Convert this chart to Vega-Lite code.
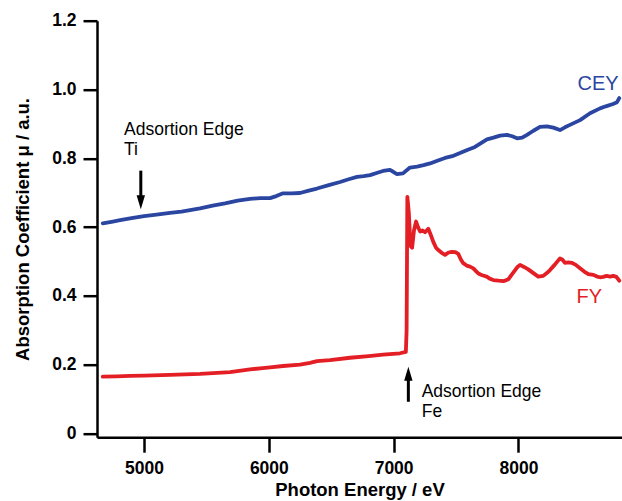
{
  "$schema": "https://vega.github.io/schema/vega-lite/v6.json",
  "autosize": "none",
  "width": 525,
  "height": 416.5,
  "padding": {"left": 97, "top": 20.7, "right": 0, "bottom": 64},
  "background": "white",
  "config": {
    "view": {"stroke": null},
    "font": "Liberation Sans"
  },
  "datasets": {
    "spectra": [
      {"E": 4669, "mu": 0.611, "series": "CEY"},
      {"E": 4750, "mu": 0.616, "series": "CEY"},
      {"E": 4808, "mu": 0.620, "series": "CEY"},
      {"E": 4900, "mu": 0.626, "series": "CEY"},
      {"E": 5000, "mu": 0.632, "series": "CEY"},
      {"E": 5100, "mu": 0.636, "series": "CEY"},
      {"E": 5208, "mu": 0.641, "series": "CEY"},
      {"E": 5300, "mu": 0.645, "series": "CEY"},
      {"E": 5449, "mu": 0.654, "series": "CEY"},
      {"E": 5550, "mu": 0.662, "series": "CEY"},
      {"E": 5649, "mu": 0.669, "series": "CEY"},
      {"E": 5750, "mu": 0.677, "series": "CEY"},
      {"E": 5849, "mu": 0.682, "series": "CEY"},
      {"E": 5930, "mu": 0.684, "series": "CEY"},
      {"E": 6010, "mu": 0.684, "series": "CEY"},
      {"E": 6060, "mu": 0.690, "series": "CEY"},
      {"E": 6114, "mu": 0.698, "series": "CEY"},
      {"E": 6180, "mu": 0.698, "series": "CEY"},
      {"E": 6250, "mu": 0.699, "series": "CEY"},
      {"E": 6320, "mu": 0.706, "series": "CEY"},
      {"E": 6386, "mu": 0.712, "series": "CEY"},
      {"E": 6480, "mu": 0.722, "series": "CEY"},
      {"E": 6571, "mu": 0.731, "series": "CEY"},
      {"E": 6640, "mu": 0.739, "series": "CEY"},
      {"E": 6707, "mu": 0.746, "series": "CEY"},
      {"E": 6760, "mu": 0.748, "series": "CEY"},
      {"E": 6811, "mu": 0.751, "series": "CEY"},
      {"E": 6870, "mu": 0.758, "series": "CEY"},
      {"E": 6915, "mu": 0.763, "series": "CEY"},
      {"E": 6971, "mu": 0.766, "series": "CEY"},
      {"E": 7000, "mu": 0.760, "series": "CEY"},
      {"E": 7027, "mu": 0.754, "series": "CEY"},
      {"E": 7075, "mu": 0.756, "series": "CEY"},
      {"E": 7131, "mu": 0.773, "series": "CEY"},
      {"E": 7188, "mu": 0.776, "series": "CEY"},
      {"E": 7240, "mu": 0.780, "series": "CEY"},
      {"E": 7292, "mu": 0.785, "series": "CEY"},
      {"E": 7350, "mu": 0.793, "series": "CEY"},
      {"E": 7412, "mu": 0.801, "series": "CEY"},
      {"E": 7470, "mu": 0.806, "series": "CEY"},
      {"E": 7532, "mu": 0.815, "series": "CEY"},
      {"E": 7590, "mu": 0.824, "series": "CEY"},
      {"E": 7652, "mu": 0.833, "series": "CEY"},
      {"E": 7700, "mu": 0.844, "series": "CEY"},
      {"E": 7748, "mu": 0.855, "series": "CEY"},
      {"E": 7800, "mu": 0.860, "series": "CEY"},
      {"E": 7853, "mu": 0.866, "series": "CEY"},
      {"E": 7909, "mu": 0.868, "series": "CEY"},
      {"E": 7950, "mu": 0.864, "series": "CEY"},
      {"E": 7989, "mu": 0.858, "series": "CEY"},
      {"E": 8030, "mu": 0.860, "series": "CEY"},
      {"E": 8069, "mu": 0.868, "series": "CEY"},
      {"E": 8120, "mu": 0.880, "series": "CEY"},
      {"E": 8173, "mu": 0.891, "series": "CEY"},
      {"E": 8229, "mu": 0.893, "series": "CEY"},
      {"E": 8280, "mu": 0.889, "series": "CEY"},
      {"E": 8333, "mu": 0.882, "series": "CEY"},
      {"E": 8373, "mu": 0.890, "series": "CEY"},
      {"E": 8413, "mu": 0.897, "series": "CEY"},
      {"E": 8494, "mu": 0.911, "series": "CEY"},
      {"E": 8574, "mu": 0.931, "series": "CEY"},
      {"E": 8654, "mu": 0.945, "series": "CEY"},
      {"E": 8700, "mu": 0.951, "series": "CEY"},
      {"E": 8758, "mu": 0.958, "series": "CEY"},
      {"E": 8790, "mu": 0.963, "series": "CEY"},
      {"E": 8808, "mu": 0.975, "series": "CEY"},
      {"E": 4669, "mu": 0.165, "series": "FY"},
      {"E": 4780, "mu": 0.166, "series": "FY"},
      {"E": 4888, "mu": 0.167, "series": "FY"},
      {"E": 5000, "mu": 0.168, "series": "FY"},
      {"E": 5208, "mu": 0.170, "series": "FY"},
      {"E": 5449, "mu": 0.173, "series": "FY"},
      {"E": 5689, "mu": 0.178, "series": "FY"},
      {"E": 5849, "mu": 0.186, "series": "FY"},
      {"E": 5950, "mu": 0.190, "series": "FY"},
      {"E": 6010, "mu": 0.192, "series": "FY"},
      {"E": 6114, "mu": 0.196, "series": "FY"},
      {"E": 6250, "mu": 0.200, "series": "FY"},
      {"E": 6330, "mu": 0.205, "series": "FY"},
      {"E": 6386, "mu": 0.210, "series": "FY"},
      {"E": 6490, "mu": 0.213, "series": "FY"},
      {"E": 6651, "mu": 0.220, "series": "FY"},
      {"E": 6800, "mu": 0.225, "series": "FY"},
      {"E": 6915, "mu": 0.229, "series": "FY"},
      {"E": 7051, "mu": 0.233, "series": "FY"},
      {"E": 7098, "mu": 0.237, "series": "FY"},
      {"E": 7104, "mu": 0.300, "series": "FY"},
      {"E": 7110, "mu": 0.688, "series": "FY"},
      {"E": 7122, "mu": 0.640, "series": "FY"},
      {"E": 7135, "mu": 0.545, "series": "FY"},
      {"E": 7148, "mu": 0.540, "series": "FY"},
      {"E": 7163, "mu": 0.590, "series": "FY"},
      {"E": 7180, "mu": 0.616, "series": "FY"},
      {"E": 7195, "mu": 0.600, "series": "FY"},
      {"E": 7212, "mu": 0.587, "series": "FY"},
      {"E": 7232, "mu": 0.590, "series": "FY"},
      {"E": 7252, "mu": 0.585, "series": "FY"},
      {"E": 7278, "mu": 0.595, "series": "FY"},
      {"E": 7300, "mu": 0.575, "series": "FY"},
      {"E": 7318, "mu": 0.557, "series": "FY"},
      {"E": 7340, "mu": 0.540, "series": "FY"},
      {"E": 7358, "mu": 0.533, "series": "FY"},
      {"E": 7385, "mu": 0.525, "series": "FY"},
      {"E": 7412, "mu": 0.519, "series": "FY"},
      {"E": 7440, "mu": 0.526, "series": "FY"},
      {"E": 7466, "mu": 0.528, "series": "FY"},
      {"E": 7495, "mu": 0.527, "series": "FY"},
      {"E": 7518, "mu": 0.522, "series": "FY"},
      {"E": 7540, "mu": 0.505, "series": "FY"},
      {"E": 7558, "mu": 0.495, "series": "FY"},
      {"E": 7585, "mu": 0.488, "series": "FY"},
      {"E": 7612, "mu": 0.485, "series": "FY"},
      {"E": 7639, "mu": 0.480, "series": "FY"},
      {"E": 7660, "mu": 0.472, "series": "FY"},
      {"E": 7679, "mu": 0.465, "series": "FY"},
      {"E": 7710, "mu": 0.460, "series": "FY"},
      {"E": 7746, "mu": 0.456, "series": "FY"},
      {"E": 7770, "mu": 0.450, "series": "FY"},
      {"E": 7799, "mu": 0.446, "series": "FY"},
      {"E": 7840, "mu": 0.444, "series": "FY"},
      {"E": 7879, "mu": 0.443, "series": "FY"},
      {"E": 7900, "mu": 0.445, "series": "FY"},
      {"E": 7919, "mu": 0.448, "series": "FY"},
      {"E": 7960, "mu": 0.468, "series": "FY"},
      {"E": 7990, "mu": 0.483, "series": "FY"},
      {"E": 8013, "mu": 0.490, "series": "FY"},
      {"E": 8045, "mu": 0.484, "series": "FY"},
      {"E": 8079, "mu": 0.477, "series": "FY"},
      {"E": 8120, "mu": 0.466, "series": "FY"},
      {"E": 8159, "mu": 0.456, "series": "FY"},
      {"E": 8199, "mu": 0.458, "series": "FY"},
      {"E": 8230, "mu": 0.467, "series": "FY"},
      {"E": 8253, "mu": 0.475, "series": "FY"},
      {"E": 8290, "mu": 0.490, "series": "FY"},
      {"E": 8333, "mu": 0.509, "series": "FY"},
      {"E": 8353, "mu": 0.505, "series": "FY"},
      {"E": 8373, "mu": 0.496, "series": "FY"},
      {"E": 8400, "mu": 0.497, "series": "FY"},
      {"E": 8427, "mu": 0.496, "series": "FY"},
      {"E": 8460, "mu": 0.490, "series": "FY"},
      {"E": 8494, "mu": 0.480, "series": "FY"},
      {"E": 8530, "mu": 0.470, "series": "FY"},
      {"E": 8561, "mu": 0.463, "series": "FY"},
      {"E": 8601, "mu": 0.461, "series": "FY"},
      {"E": 8630, "mu": 0.456, "series": "FY"},
      {"E": 8654, "mu": 0.454, "series": "FY"},
      {"E": 8680, "mu": 0.455, "series": "FY"},
      {"E": 8707, "mu": 0.458, "series": "FY"},
      {"E": 8735, "mu": 0.456, "series": "FY"},
      {"E": 8760, "mu": 0.458, "series": "FY"},
      {"E": 8785, "mu": 0.455, "series": "FY"},
      {"E": 8808, "mu": 0.444, "series": "FY"}
    ]
  },
  "layer": [
    {
      "data": {"name": "spectra"},
      "mark": {"type": "line", "strokeWidth": 3.8, "strokeJoin": "round", "strokeCap": "round"},
      "encoding": {
        "x": {
          "field": "E", "type": "quantitative",
          "scale": {"domain": [4623, 8830], "nice": false, "zero": false},
          "axis": {
            "title": "Photon Energy / eV",
            "values": [5000, 6000, 7000, 8000],
            "format": "d",
            "grid": false,
            "domainColor": "black", "domainWidth": 2.5,
            "tickColor": "black", "tickWidth": 2.5, "tickSize": 15,
            "labelFont": "Liberation Sans", "labelFontWeight": "bold", "labelFontSize": 17.5, "labelColor": "black",
            "labelPadding": 7, "labelFlush": false,
            "titleFont": "Liberation Sans", "titleFontWeight": "bold", "titleFontSize": 18.5, "titleColor": "black",
            "titlePadding": 4
          }
        },
        "y": {
          "field": "mu", "type": "quantitative",
          "scale": {"domain": [-0.011, 1.2], "nice": false, "zero": false},
          "axis": {
            "title": "Absorption Coefficient μ / a.u.",
            "values": [0, 0.2, 0.4, 0.6, 0.8, 1.0, 1.2],
            "labelExpr": "datum.value == 0 ? '0' : format(datum.value, '.1f')",
            "grid": false,
            "domainColor": "black", "domainWidth": 2.5,
            "tickColor": "black", "tickWidth": 2.5, "tickSize": 14,
            "labelFont": "Liberation Sans", "labelFontWeight": "bold", "labelFontSize": 17.5, "labelColor": "black",
            "labelPadding": 7, "labelFlush": false,
            "titleFont": "Liberation Sans", "titleFontWeight": "bold", "titleFontSize": 18.5, "titleColor": "black",
            "titlePadding": 19
          }
        },
        "color": {
          "field": "series", "type": "nominal",
          "scale": {"domain": ["CEY", "FY"], "range": ["#2a46a1", "#e31e25"]},
          "legend": null
        }
      }
    },
    {
      "data": {"values": [
        {"E": 8803, "mu": 0.999, "label": "CEY"}
      ]},
      "mark": {"type": "text", "align": "right", "baseline": "alphabetic", "fontSize": 20, "font": "Liberation Sans", "color": "#2a46a1"},
      "encoding": {
        "x": {"field": "E", "type": "quantitative"},
        "y": {"field": "mu", "type": "quantitative"},
        "text": {"field": "label"}
      }
    },
    {
      "data": {"values": [
        {"E": 8466, "mu": 0.380, "label": "FY"}
      ]},
      "mark": {"type": "text", "align": "left", "baseline": "alphabetic", "fontSize": 20, "font": "Liberation Sans", "color": "#e31e25"},
      "encoding": {
        "x": {"field": "E", "type": "quantitative"},
        "y": {"field": "mu", "type": "quantitative"},
        "text": {"field": "label"}
      }
    },
    {
      "data": {"values": [
        {"E": 4840, "mu": 0.868, "label": "Adsortion Edge"},
        {"E": 4840, "mu": 0.810, "label": "Ti"},
        {"E": 7225, "mu": 0.1065, "label": "Adsortion Edge"},
        {"E": 7225, "mu": 0.048, "label": "Fe"}
      ]},
      "mark": {"type": "text", "align": "left", "baseline": "alphabetic", "fontSize": 17.5, "font": "Liberation Sans", "color": "black"},
      "encoding": {
        "x": {"field": "E", "type": "quantitative"},
        "y": {"field": "mu", "type": "quantitative"},
        "text": {"field": "label"}
      }
    },
    {
      "data": {"values": [
        {"E": 4974, "top": 0.764, "bottom": 0.675},
        {"E": 7118, "top": 0.176, "bottom": 0.092}
      ]},
      "mark": {"type": "rule", "color": "black", "strokeWidth": 3},
      "encoding": {
        "x": {"field": "E", "type": "quantitative"},
        "y": {"field": "top", "type": "quantitative"},
        "y2": {"field": "bottom"}
      }
    },
    {
      "data": {"values": [
        {"E": 4974, "mu": 0.672}
      ]},
      "mark": {"type": "point", "filled": true, "color": "black", "opacity": 1, "size": 196, "shape": "M-0.6,-1 L0.6,-1 L0,1 Z"},
      "encoding": {
        "x": {"field": "E", "type": "quantitative"},
        "y": {"field": "mu", "type": "quantitative"}
      }
    },
    {
      "data": {"values": [
        {"E": 7118, "mu": 0.1734}
      ]},
      "mark": {"type": "point", "filled": true, "color": "black", "opacity": 1, "size": 196, "shape": "M-0.6,1 L0.6,1 L0,-1 Z"},
      "encoding": {
        "x": {"field": "E", "type": "quantitative"},
        "y": {"field": "mu", "type": "quantitative"}
      }
    }
  ]
}
